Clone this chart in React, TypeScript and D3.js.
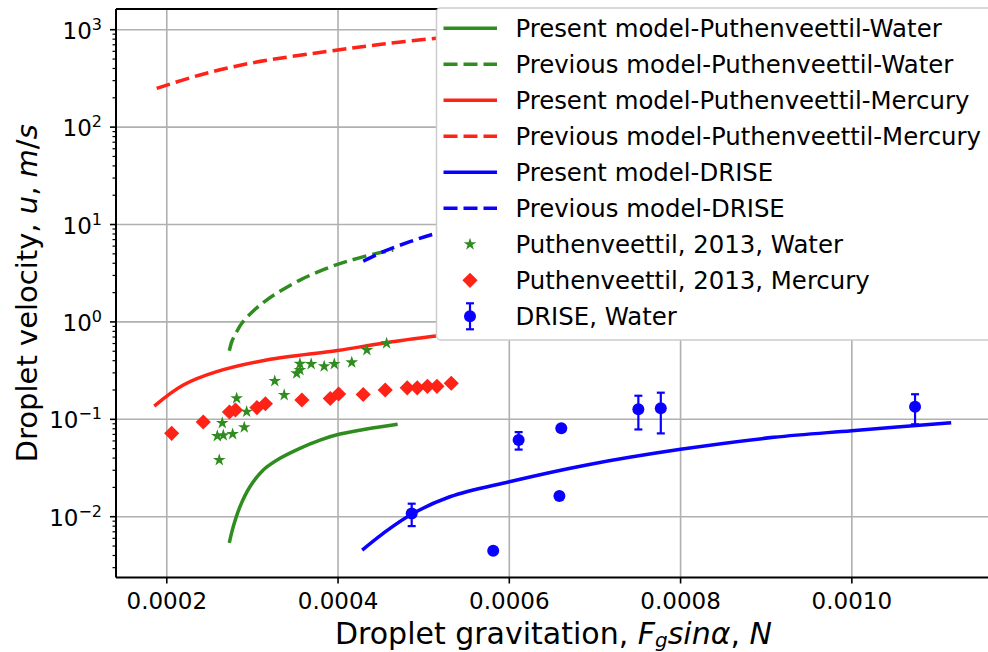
import React from 'react';
import * as d3 from 'd3';

// ---- data ----
// present model curves
const presentWaterF = [0.000273, 0.0002776, 0.0002855, 0.0002971, 0.0003127, 0.0003322, 0.0003555, 0.0003789, 0.0004022, 0.0004334, 0.0004696];
const presentWaterU = [0.0054, 0.00789, 0.01268, 0.0203, 0.0302, 0.0398, 0.0504, 0.0613, 0.0706, 0.0795, 0.0889];

const previousWaterF = [0.000273, 0.0002762, 0.0002808, 0.0002878, 0.000301, 0.0003158, 0.0003283, 0.0003555, 0.0003867, 0.0004139, 0.0004451, 0.0004644];
const previousWaterU = [0.506, 0.637, 0.769, 0.974, 1.294, 1.658, 1.966, 2.69, 3.55, 4.27, 5.06, 5.47];

const presentMercuryF = [0.0001854, 0.0002193, 0.0002583, 0.0003166, 0.0003993, 0.0004536, 0.0005143, 0.00055];
const presentMercuryU = [0.1369, 0.2249, 0.3083, 0.4064, 0.5085, 0.6075, 0.7164, 0.76];

const previousMercuryF = [0.0001882, 0.0002388, 0.0002971, 0.0003995, 0.0004528, 0.0005143, 0.000554];
const previousMercuryU = [250, 343, 452, 619, 713, 816, 880];

const presentDriseF = [0.0004282, 0.0004528, 0.0004859, 0.0005306, 0.0006, 0.0006904, 0.0008, 0.0009087, 0.001, 0.001116];
const presentDriseU = [0.00455, 0.00676, 0.0106, 0.01603, 0.02287, 0.034, 0.0492, 0.0653, 0.0764, 0.0923];

const previousDriseF = [0.0004294, 0.0004528, 0.0004839, 0.0005143, 0.000543];
const previousDriseU = [4.2, 5.26, 6.66, 8.12, 9.5];

// experiments
const waterExpF = [0.0002613, 0.000259, 0.000266, 0.0002769, 0.0002905, 0.0002648, 0.0002816, 0.0002933, 0.0003261, 0.0003371, 0.0003517, 0.0003555, 0.0003555, 0.0003686, 0.0003838, 0.0003956, 0.000416, 0.0004337, 0.0004567];
const waterExpU = [0.0382, 0.0674, 0.0686, 0.0706, 0.0828, 0.0916, 0.1644, 0.1197, 0.247, 0.1776, 0.2965, 0.3206, 0.3724, 0.37, 0.35, 0.37, 0.3846, 0.5146, 0.603];

const mercuryExpF = [0.0002057, 0.0002426, 0.0002732, 0.0002802, 0.0003053, 0.0003152, 0.0003578, 0.0003909, 0.0004007, 0.0004294, 0.0004551, 0.0004808, 0.0004925, 0.0005044, 0.0005155, 0.0005322];
const mercuryExpU = [0.0718, 0.0938, 0.1189, 0.1246, 0.132, 0.1445, 0.1578, 0.1635, 0.182, 0.18, 0.2, 0.2106, 0.2106, 0.218, 0.218, 0.2344];

const driseF = [0.000486, 0.0005812, 0.0006109, 0.0006585, 0.0006607, 0.0007507, 0.0007769, 0.0010738];
const driseU = [0.01081, 0.00448, 0.0614, 0.01629, 0.0808, 0.1267, 0.1297, 0.1349];
const driseErr = [0.0028, 0, 0.0125, 0, 0, 0.048, 0.058, 0.046];

const xTicks = [0.0002, 0.0004, 0.0006, 0.0008, 0.001];
const yTicks = [-2, -1, 0, 1, 2, 3];

const legendLabels = [
  'Present model-Puthenveettil-Water',
  'Previous model-Puthenveettil-Water',
  'Present model-Puthenveettil-Mercury',
  'Previous model-Puthenveettil-Mercury',
  'Present model-DRISE',
  'Previous model-DRISE',
  'Puthenveettil, 2013, Water',
  'Puthenveettil, 2013, Mercury',
  'DRISE, Water',
];

const GREEN = '#2f8c1f';
const RED = '#ff2216';
const BLUE = '#0a00ff';
const FONT = 'DejaVu Sans, sans-serif';

const L = 116, R = 991, T = 9, B = 577.5;
const LW = 3.5;
const DASH = '14,6';

export default function App() {
  const x = d3.scaleLinear().domain([0.0001407, 0.0011625]).range([L, R]);
  const y = d3.scaleLog().domain([0.002377, 1632]).range([B, T]);

  const line = (fs: number[], us: number[]) =>
    d3.line<number>().x((d, i) => x(fs[i])).y((d, i) => y(us[i])).curve(d3.curveCatmullRom.alpha(0.5))(fs) || '';

  const curves = [
    { f: presentWaterF, u: presentWaterU, c: GREEN, dash: false },
    { f: previousWaterF, u: previousWaterU, c: GREEN, dash: true },
    { f: presentMercuryF, u: presentMercuryU, c: RED, dash: false },
    { f: previousMercuryF, u: previousMercuryU, c: RED, dash: true },
    { f: presentDriseF, u: presentDriseU, c: BLUE, dash: false },
    { f: previousDriseF, u: previousDriseU, c: BLUE, dash: true },
  ];

  const star = d3.symbol().type(d3.symbolStar).size(50)() || '';
  const diamond = d3.symbol().type(d3.symbolSquare).size(115)() || '';

  const minor: number[] = [];
  for (let k = -3; k <= 3; k++) for (let m = 2; m <= 9; m++) {
    const v = m * Math.pow(10, k);
    if (v > y.domain()[0] && v < y.domain()[1]) minor.push(v);
  }

  const rowY = (i: number) => 28.3 + i * 36;

  return (
    <svg width={988} height={652} style={{ position: 'absolute', left: 0, top: 0, background: '#fff' }} fontFamily={FONT}>
      <defs>
        <clipPath id="plot"><rect x={L} y={T} width={R - L} height={B - T} /></clipPath>
      </defs>
      <rect width={988} height={652} fill="#fff" />
      {/* grid */}
      <g stroke="#b0b0b0" strokeWidth={1.6}>
        {xTicks.map(t => <line key={t} x1={x(t)} x2={x(t)} y1={T} y2={B} />)}
        {yTicks.map(k => <line key={k} x1={L} x2={R} y1={y(Math.pow(10, k))} y2={y(Math.pow(10, k))} />)}
      </g>
      <g clipPath="url(#plot)" fill="none" strokeWidth={LW}>
        {curves.map((c, i) => (
          <path key={i} d={line(c.f, c.u)} stroke={c.c} strokeDasharray={c.dash ? DASH : undefined} />
        ))}
      </g>
      {/* water experiments */}
      <g fill={GREEN}>
        {waterExpF.map((f, i) => <path key={i} d={star} transform={`translate(${x(f)},${y(waterExpU[i])})`} />)}
      </g>
      {/* mercury experiments */}
      <g fill={RED}>
        {mercuryExpF.map((f, i) => <path key={i} d={diamond} transform={`translate(${x(f)},${y(mercuryExpU[i])}) rotate(45)`} />)}
      </g>
      {/* DRISE with error bars */}
      <g stroke={BLUE} strokeWidth={2.2} fill={BLUE}>
        {driseF.map((f, i) => {
          const e = driseErr[i];
          const cx = x(f);
          return (
            <g key={i}>
              {e > 0 && (
                <>
                  <line x1={cx} x2={cx} y1={y(driseU[i] - e)} y2={y(driseU[i] + e)} />
                  <line x1={cx - 4} x2={cx + 4} y1={y(driseU[i] - e)} y2={y(driseU[i] - e)} />
                  <line x1={cx - 4} x2={cx + 4} y1={y(driseU[i] + e)} y2={y(driseU[i] + e)} />
                </>
              )}
              <circle cx={cx} cy={y(driseU[i])} r={6} stroke="none" />
            </g>
          );
        })}
      </g>
      {/* spines and ticks */}
      <g stroke="#000">
        <line x1={L} x2={L} y1={T} y2={B} strokeWidth={2} />
        <line x1={L} x2={R} y1={B} y2={B} strokeWidth={2} />
        <line x1={L} x2={R} y1={T} y2={T} strokeWidth={2} />
        {xTicks.map(t => <line key={t} x1={x(t)} x2={x(t)} y1={B} y2={B + 6} strokeWidth={1.6} />)}
        {yTicks.map(k => <line key={k} x1={L - 6} x2={L} y1={y(Math.pow(10, k))} y2={y(Math.pow(10, k))} strokeWidth={1.6} />)}
        {minor.map(v => <line key={v} x1={L - 3.5} x2={L} y1={y(v)} y2={y(v)} strokeWidth={1.2} />)}
      </g>
      <g fontSize={23} fill="#000">
        {xTicks.map(t => (
          <text key={t} x={x(t)} y={609} textAnchor="middle">{d3.format('.4f')(t)}</text>
        ))}
        {yTicks.map(k => (
          <text key={k} x={102} y={y(Math.pow(10, k)) + 9} textAnchor="end">
            10<tspan fontSize={16} dy={-9}>{k < 0 ? '\u2212' + -k : String(k)}</tspan>
          </text>
        ))}
      </g>
      {/* axis labels */}
      <text x={(L + R) / 2} y={644} textAnchor="middle" fontSize={30}>
        Droplet gravitation, <tspan fontStyle="italic">F</tspan>
        <tspan fontStyle="italic" fontSize={20} dy={3}>g</tspan>
        <tspan fontStyle="italic" dy={-3}>sinα</tspan>, <tspan fontStyle="italic">N</tspan>
      </text>
      <text transform={`translate(37,${(T + B) / 2}) rotate(-90)`} textAnchor="middle" fontSize={29}>
        Droplet velocity, <tspan fontStyle="italic">u</tspan>, <tspan fontStyle="italic">m</tspan>/<tspan fontStyle="italic">s</tspan>
      </text>
      {/* legend */}
      <g>
        <rect x={436.5} y={8} width={570} height={332} rx={4} fill="#fff" stroke="#cccccc" strokeWidth={1.5} />
        {curves.map((c, i) => (
          <line key={i} x1={443.5} x2={497} y1={rowY(i)} y2={rowY(i)} stroke={c.c} strokeWidth={LW} strokeDasharray={c.dash ? DASH : undefined} />
        ))}
        <path d={star} fill={GREEN} transform={`translate(470,${rowY(6)})`} />
        <path d={diamond} fill={RED} transform={`translate(470,${rowY(7)}) rotate(45)`} />
        <g stroke={BLUE} strokeWidth={2.2}>
          <line x1={470} x2={470} y1={rowY(8) - 13} y2={rowY(8) + 13} />
          <line x1={466} x2={474} y1={rowY(8) - 13} y2={rowY(8) - 13} />
          <line x1={466} x2={474} y1={rowY(8) + 13} y2={rowY(8) + 13} />
          <circle cx={470} cy={rowY(8)} r={6} fill={BLUE} stroke="none" />
        </g>
        {legendLabels.map((t, i) => (
          <text key={t} x={515.4} y={rowY(i) + 8.5} fontSize={24.4}>{t}</text>
        ))}
      </g>
    </svg>
  );
}
